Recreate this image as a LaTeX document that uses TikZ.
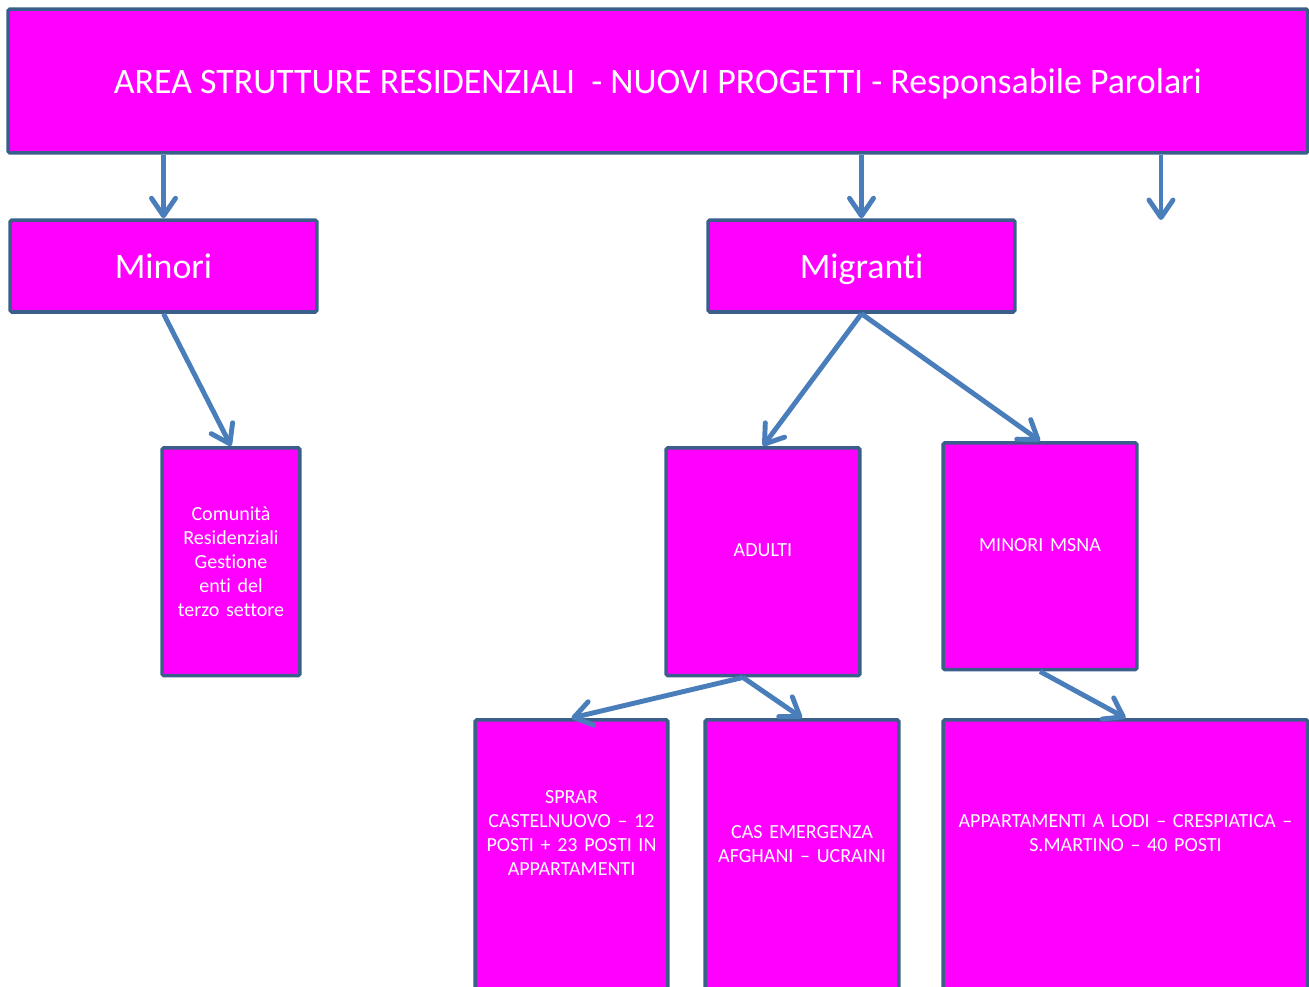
\documentclass[tikz,border=0pt]{standalone}
\usepackage{fontspec}
\setmainfont[Ligatures=NoCommon]{Carlito}
\usetikzlibrary{arrows.meta}

\definecolor{boxfill}{HTML}{FF00FF}
\definecolor{boxline}{HTML}{3A5F8B}
\definecolor{arrowblue}{HTML}{4A7EBB}

\begin{document}
\begin{tikzpicture}[x=0.02cm,y=-0.02cm]
  \tikzset{box/.style = {shape=rectangle,draw=boxline,fill=boxfill,line width=2pt,text=white,inner sep=0pt,rounded corners=1pt}}
  \tikzset{head/.style = {box,text depth=0pt,font=\fontsize{20.4}{24}\selectfont}}
  \tikzset{tall/.style = {box,anchor=north,align=center,font=\fontsize{11.4}{13.6}\selectfont}}
  \tikzset{edge/.style = {-{Straight Barb[length=3.5mm,width=4.8mm,round]},draw=arrowblue,line width=2.8pt}}

  \useasboundingbox (0,0) rectangle (1309,987);
  \clip (0,0) rectangle (1309,987);

  \node[head,minimum width=26cm,minimum height=2.88cm] (area) at (658,81) {AREA STRUTTURE RESIDENZIALI\ \ - NUOVI PROGETTI - Responsabile Parolari};
  \node[head,minimum width=6.14cm,minimum height=1.84cm] (min) at (163.5,266) {Minori};
  \node[head,minimum width=6.14cm,minimum height=1.84cm] (mig) at (861.5,266) {Migranti};

  \node[tall,text width=2.76cm,text height=1.46cm,text depth=3.1cm] (com) at (231,446) {Comunità\\Residenziali\\Gestione\\enti del\\terzo settore};
  \node[tall,text width=3.88cm,text height=2.18cm,text depth=2.38cm] (adu) at (763,446) {ADULTI};
  \node[tall,text width=3.88cm,text height=2.18cm,text depth=2.36cm] (msna) at (1040,441) {MINORI MSNA};

  \node[tall,text width=3.86cm,text height=1.68cm,text depth=5.6cm] (spr) at (571.5,718) {SPRAR\\CASTELNUOVO – 12\\POSTI + 23 POSTI IN\\APPARTAMENTI};
  \node[tall,text width=3.88cm,text height=2.38cm,text depth=5.6cm] (cas) at (802,718) {CAS EMERGENZA\\AFGHANI – UCRAINI};
  \node[tall,text width=7.3cm,text height=2.16cm,text depth=5.6cm] (app) at (1125.5,718) {APPARTAMENTI A LODI – CRESPIATICA –\\S.MARTINO – 40 POSTI};

  \coordinate (free) at (1161,220);

  \draw[edge] (min.north |- area.south) -- (min.north);
  \draw[edge] (mig.north |- area.south) -- (mig.north);
  \draw[edge] (free |- area.south) -- (free);
  \draw[edge] (min.south) -- (com.north);
  \draw[edge] (mig.south) -- (adu.north);
  \draw[edge] (mig.south) -- (msna.north);
  \draw[edge] ([xshift=-0.4cm]adu.south) -- (spr.north);
  \draw[edge] ([xshift=-0.4cm]adu.south) -- (cas.north);
  \draw[edge] (msna.south) -- (app.north);

\end{tikzpicture}
\end{document}
